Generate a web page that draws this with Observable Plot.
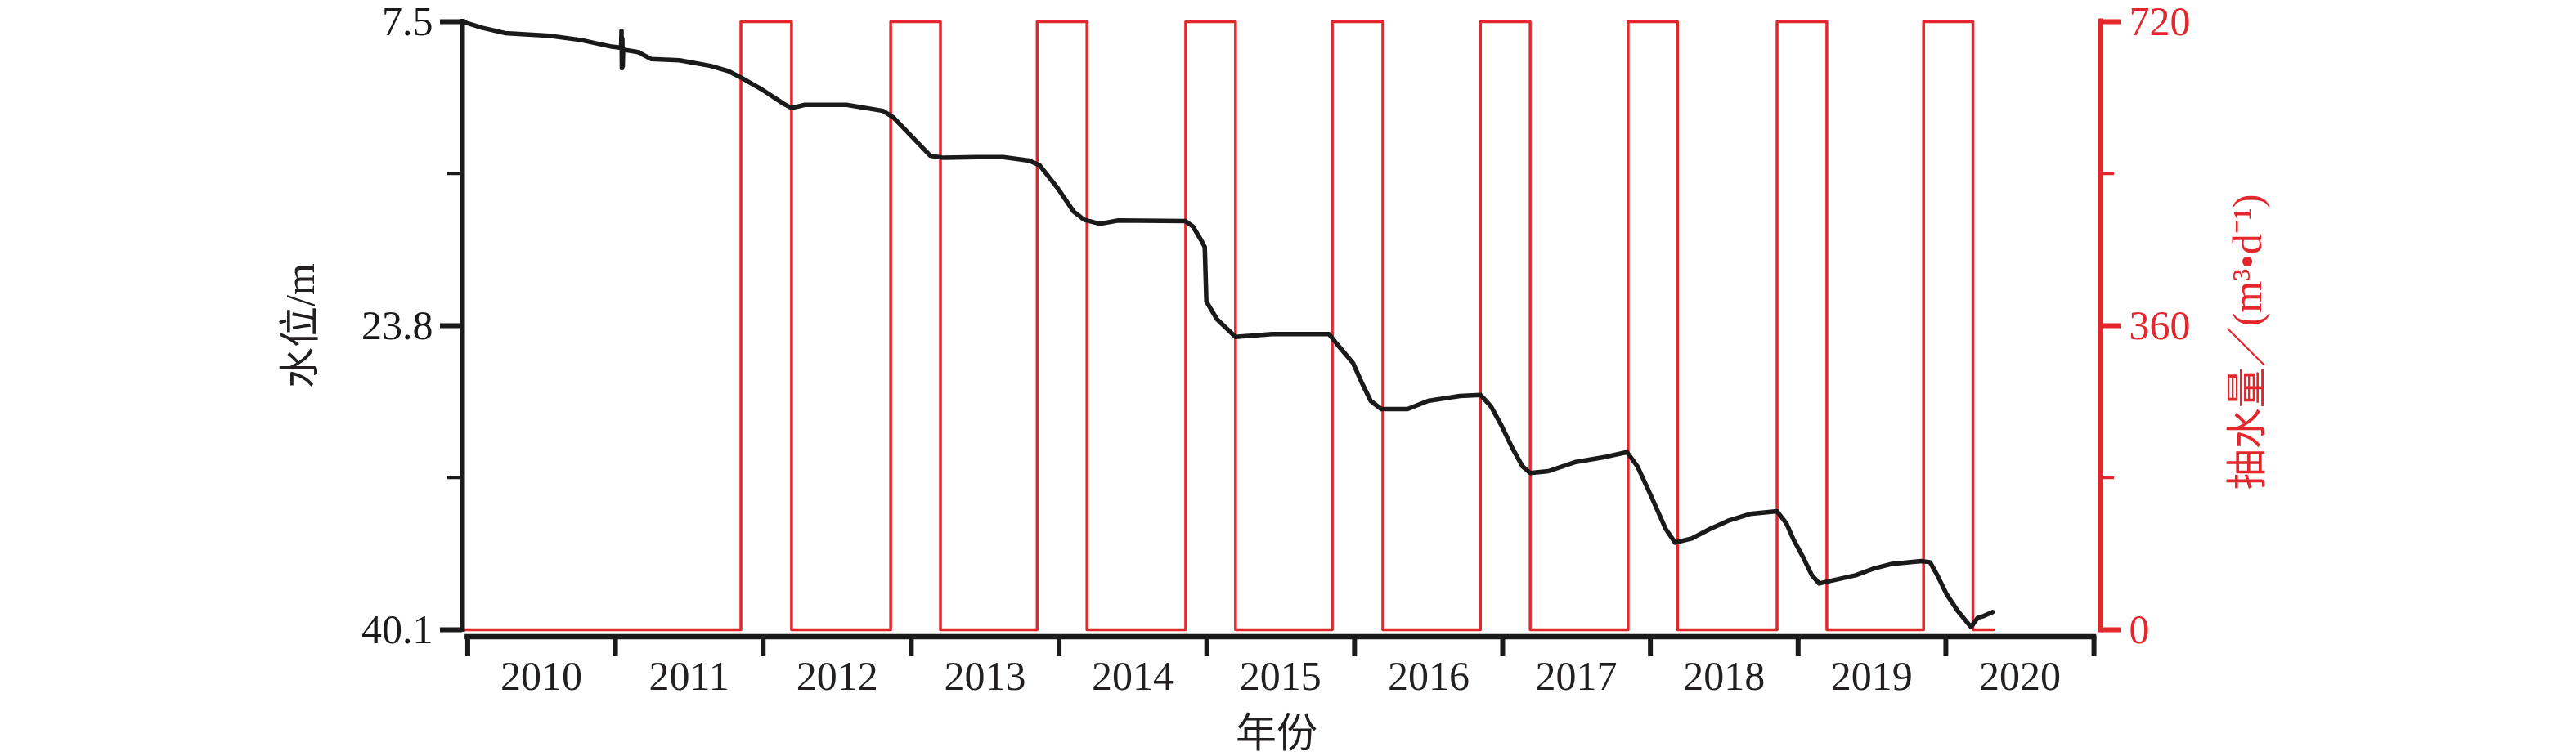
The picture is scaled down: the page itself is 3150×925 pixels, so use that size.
<!DOCTYPE html>
<html>
<head>
<meta charset="utf-8">
<script src="https://cdn.jsdelivr.net/npm/d3@7"></script>
<script src="https://cdn.jsdelivr.net/npm/@observablehq/plot@0.6"></script>
<style>
  html, body { margin: 0; padding: 0; background: #fff; }
  svg { display: block; }
</style>
</head>
<body>
<script>
// ---- Data ----
const levelDates = [
  "2009-12-20","2010-02-05","2010-04-03","2010-07-22","2010-10-07","2010-12-23",
  "2011-01-15","2011-01-16","2011-01-17","2011-01-18","2011-01-19","2011-01-20",
  "2011-02-26","2011-03-30","2011-06-08","2011-08-24","2011-10-08","2011-11-09",
  "2012-01-01","2012-02-21","2012-03-11","2012-04-13","2012-07-25","2012-10-23",
  "2012-11-18","2012-12-27","2013-02-17","2013-03-21","2013-06-13","2013-08-16",
  "2013-10-19","2013-11-14","2013-12-29","2014-02-06","2014-03-04","2014-04-12",
  "2014-05-27","2014-11-09","2014-11-28","2014-12-18","2014-12-27","2014-12-31",
  "2015-01-26","2015-03-13","2015-06-11","2015-10-30","2015-11-18","2015-12-28",
  "2016-01-18","2016-02-10","2016-03-07","2016-05-11","2016-07-01","2016-09-17",
  "2016-11-07","2016-12-03","2016-12-29","2017-01-24","2017-02-19","2017-03-10",
  "2017-04-24","2017-06-28","2017-09-13","2017-11-04","2017-11-30","2017-12-31",
  "2018-02-08","2018-03-03","2018-04-13","2018-05-28","2018-07-12","2018-09-04",
  "2018-11-10","2018-12-03","2018-12-21","2019-01-12","2019-02-04","2019-02-22",
  "2019-04-08","2019-05-23","2019-07-07","2019-08-21","2019-11-01","2019-11-23",
  "2019-12-11","2020-01-03","2020-01-30","2020-03-03","2020-03-20","2020-04-03","2020-04-26"
];
const levelValues = [
  7.50, 7.82, 8.11, 8.26, 8.48, 8.84,
  8.90, 7.98, 10.00, 8.40, 9.90, 9.00,
  9.13, 9.50, 9.57, 9.87, 10.16, 10.52,
  11.18, 11.91, 12.13, 11.96, 11.96, 12.28,
  12.64, 13.52, 14.69, 14.80, 14.76, 14.76,
  14.95, 15.20, 16.44, 17.68, 18.12, 18.34,
  18.16, 18.19, 18.49, 19.21, 19.58, 22.50,
  23.45, 24.40, 24.25, 24.25, 24.77, 25.79,
  26.81, 27.83, 28.27, 28.27, 27.83, 27.57,
  27.51, 28.12, 29.15, 30.32, 31.34, 31.70,
  31.60, 31.12, 30.83, 30.58, 31.34, 32.80,
  34.70, 35.43, 35.21, 34.70, 34.26, 33.89,
  33.75, 34.40, 35.28, 36.16, 37.18, 37.62,
  37.40, 37.18, 36.82, 36.57, 36.42, 36.48,
  37.18, 38.20, 39.08, 39.95, 39.45, 39.37, 39.15
];

const pumpDates = [
  "2009-12-20","2011-11-07","2012-03-11","2012-11-11","2013-03-14","2013-11-08",
  "2014-03-11","2014-11-10","2015-03-13","2015-11-07","2016-03-11","2016-11-07",
  "2017-03-10","2017-11-07","2018-03-09","2018-11-10","2019-03-13","2019-11-07",
  "2020-03-08","2020-04-28"
];
const pumpValues = [0,720,0,720,0,720,0,720,0,720,0,720,0,720,0,720,0,720,0,0];

const yearTickDates = ["2010-01-01","2011-01-01","2012-01-01","2013-01-01","2014-01-01","2015-01-01",
  "2016-01-01","2017-01-01","2018-01-01","2019-01-01","2020-01-01","2021-01-01"];
const yearLabelDates = ["2010-07-02","2011-07-02","2012-07-02","2013-07-02","2014-07-02","2015-07-02",
  "2016-07-02","2017-07-02","2018-07-02","2019-07-02","2020-07-02"];
const yearLabels = ["2010","2011","2012","2013","2014","2015","2016","2017","2018","2019","2020"];

const levelTicksMajor = [7.5, 23.8, 40.1];
const levelTicksMinor = [15.65, 31.95];
const pumpTicksMajor = [0, 360, 720];
const pumpTicksMinor = [180, 540];

const leftTitle = "水位/m";
const rightTitle = "抽水量／(m³•d⁻¹)";
const xTitle = "年份";

// ---- Build ----
const parse = d3.utcParse("%Y-%m-%d");
const levelRows = levelDates.map((d, i) => ({date: parse(d), level: levelValues[i]}));
const pumpRows = pumpDates.map((d, i) => ({date: parse(d), q: pumpValues[i]}));
const yearLabelMap = new Map(yearLabelDates.map((d, i) => [+parse(d), yearLabels[i]]));

const xStart = parse("2009-12-19");
const xEnd = parse("2021-01-17");
const pumpToLevel = d3.scaleLinear().domain([0, 720]).range([40.1, 7.5]);

const RED = "#e4262d";
const INK = "#1a1a1a";
const TXT = "#231f20";

const chart = Plot.plot({
  width: 3150,
  height: 925,
  marginLeft: 565,
  marginRight: 582,
  marginTop: 26,
  marginBottom: 155,
  style: {fontFamily: "'Liberation Serif', 'Noto Sans CJK SC', serif", background: "#fff", overflow: "visible", color: TXT},
  x: {type: "utc", domain: [xStart, xEnd]},
  y: {domain: [7.5, 40.1], reverse: true},
  marks: [
    // pumping step line
    Plot.line(pumpRows, {x: "date", y: d => pumpToLevel(d.q), curve: "step-after", stroke: RED, strokeWidth: 3.5}),
    // water level line
    Plot.line(levelRows, {x: "date", y: "level", stroke: INK, strokeWidth: 5.5}),
    // left axis
    Plot.ruleX([xStart], {y1: 7.5, y2: 40.1, stroke: INK, strokeWidth: 6, strokeLinecap: "square"}),
    Plot.axisY({ticks: levelTicksMajor, anchor: "left", label: null, tickSize: 27, tickPadding: 9, strokeWidth: 6,
      fontSize: 50, color: INK, tickFormat: d => d.toFixed(1)}),
    Plot.axisY({ticks: levelTicksMinor, anchor: "left", label: null, tickSize: 18, strokeWidth: 3.5, color: INK, tickFormat: () => ""}),
    // right axis
    Plot.ruleX([xEnd], {y1: 7.5, y2: 40.1, stroke: RED, strokeWidth: 7, strokeLinecap: "square"}),
    Plot.axisY({ticks: pumpTicksMajor.map(pumpToLevel), anchor: "right", label: null, tickSize: 25, tickPadding: 10, strokeWidth: 6,
      fontSize: 50, color: RED, tickFormat: v => String(Math.round(pumpToLevel.invert(v)))}),
    Plot.axisY({ticks: pumpTicksMinor.map(pumpToLevel), anchor: "right", label: null, tickSize: 16, strokeWidth: 3.5, color: RED, tickFormat: () => ""}),
    // x axis
    Plot.ruleY([40.1], {x1: parse("2010-01-01"), x2: parse("2021-01-01"), dy: 8.5, stroke: INK, strokeWidth: 6.5, strokeLinecap: "square"}),
    Plot.axisX({ticks: yearTickDates.map(parse), anchor: "bottom", label: null, tickSize: 25, dy: 8, strokeWidth: 6, color: INK, tickFormat: () => ""}),
    Plot.axisX({ticks: yearLabelDates.map(parse), anchor: "bottom", label: null, tickSize: 0, tickPadding: 38, fontSize: 50, color: TXT,
      tickFormat: d => yearLabelMap.get(+d)}),
    // titles
    Plot.text([leftTitle], {frameAnchor: "left", dx: -198, rotate: -90, textAnchor: "middle", lineAnchor: "middle", fontSize: 50, fill: TXT}),
    Plot.text([rightTitle], {frameAnchor: "right", dx: 180, dy: 20, rotate: -90, textAnchor: "middle", lineAnchor: "middle", fontSize: 50, fill: RED}),
    Plot.text([xTitle], {frameAnchor: "bottom", dx: -6, dy: 127, textAnchor: "middle", lineAnchor: "middle", fontSize: 50, fill: TXT})
  ]
});
document.body.appendChild(chart);
</script>
</body>
</html>
